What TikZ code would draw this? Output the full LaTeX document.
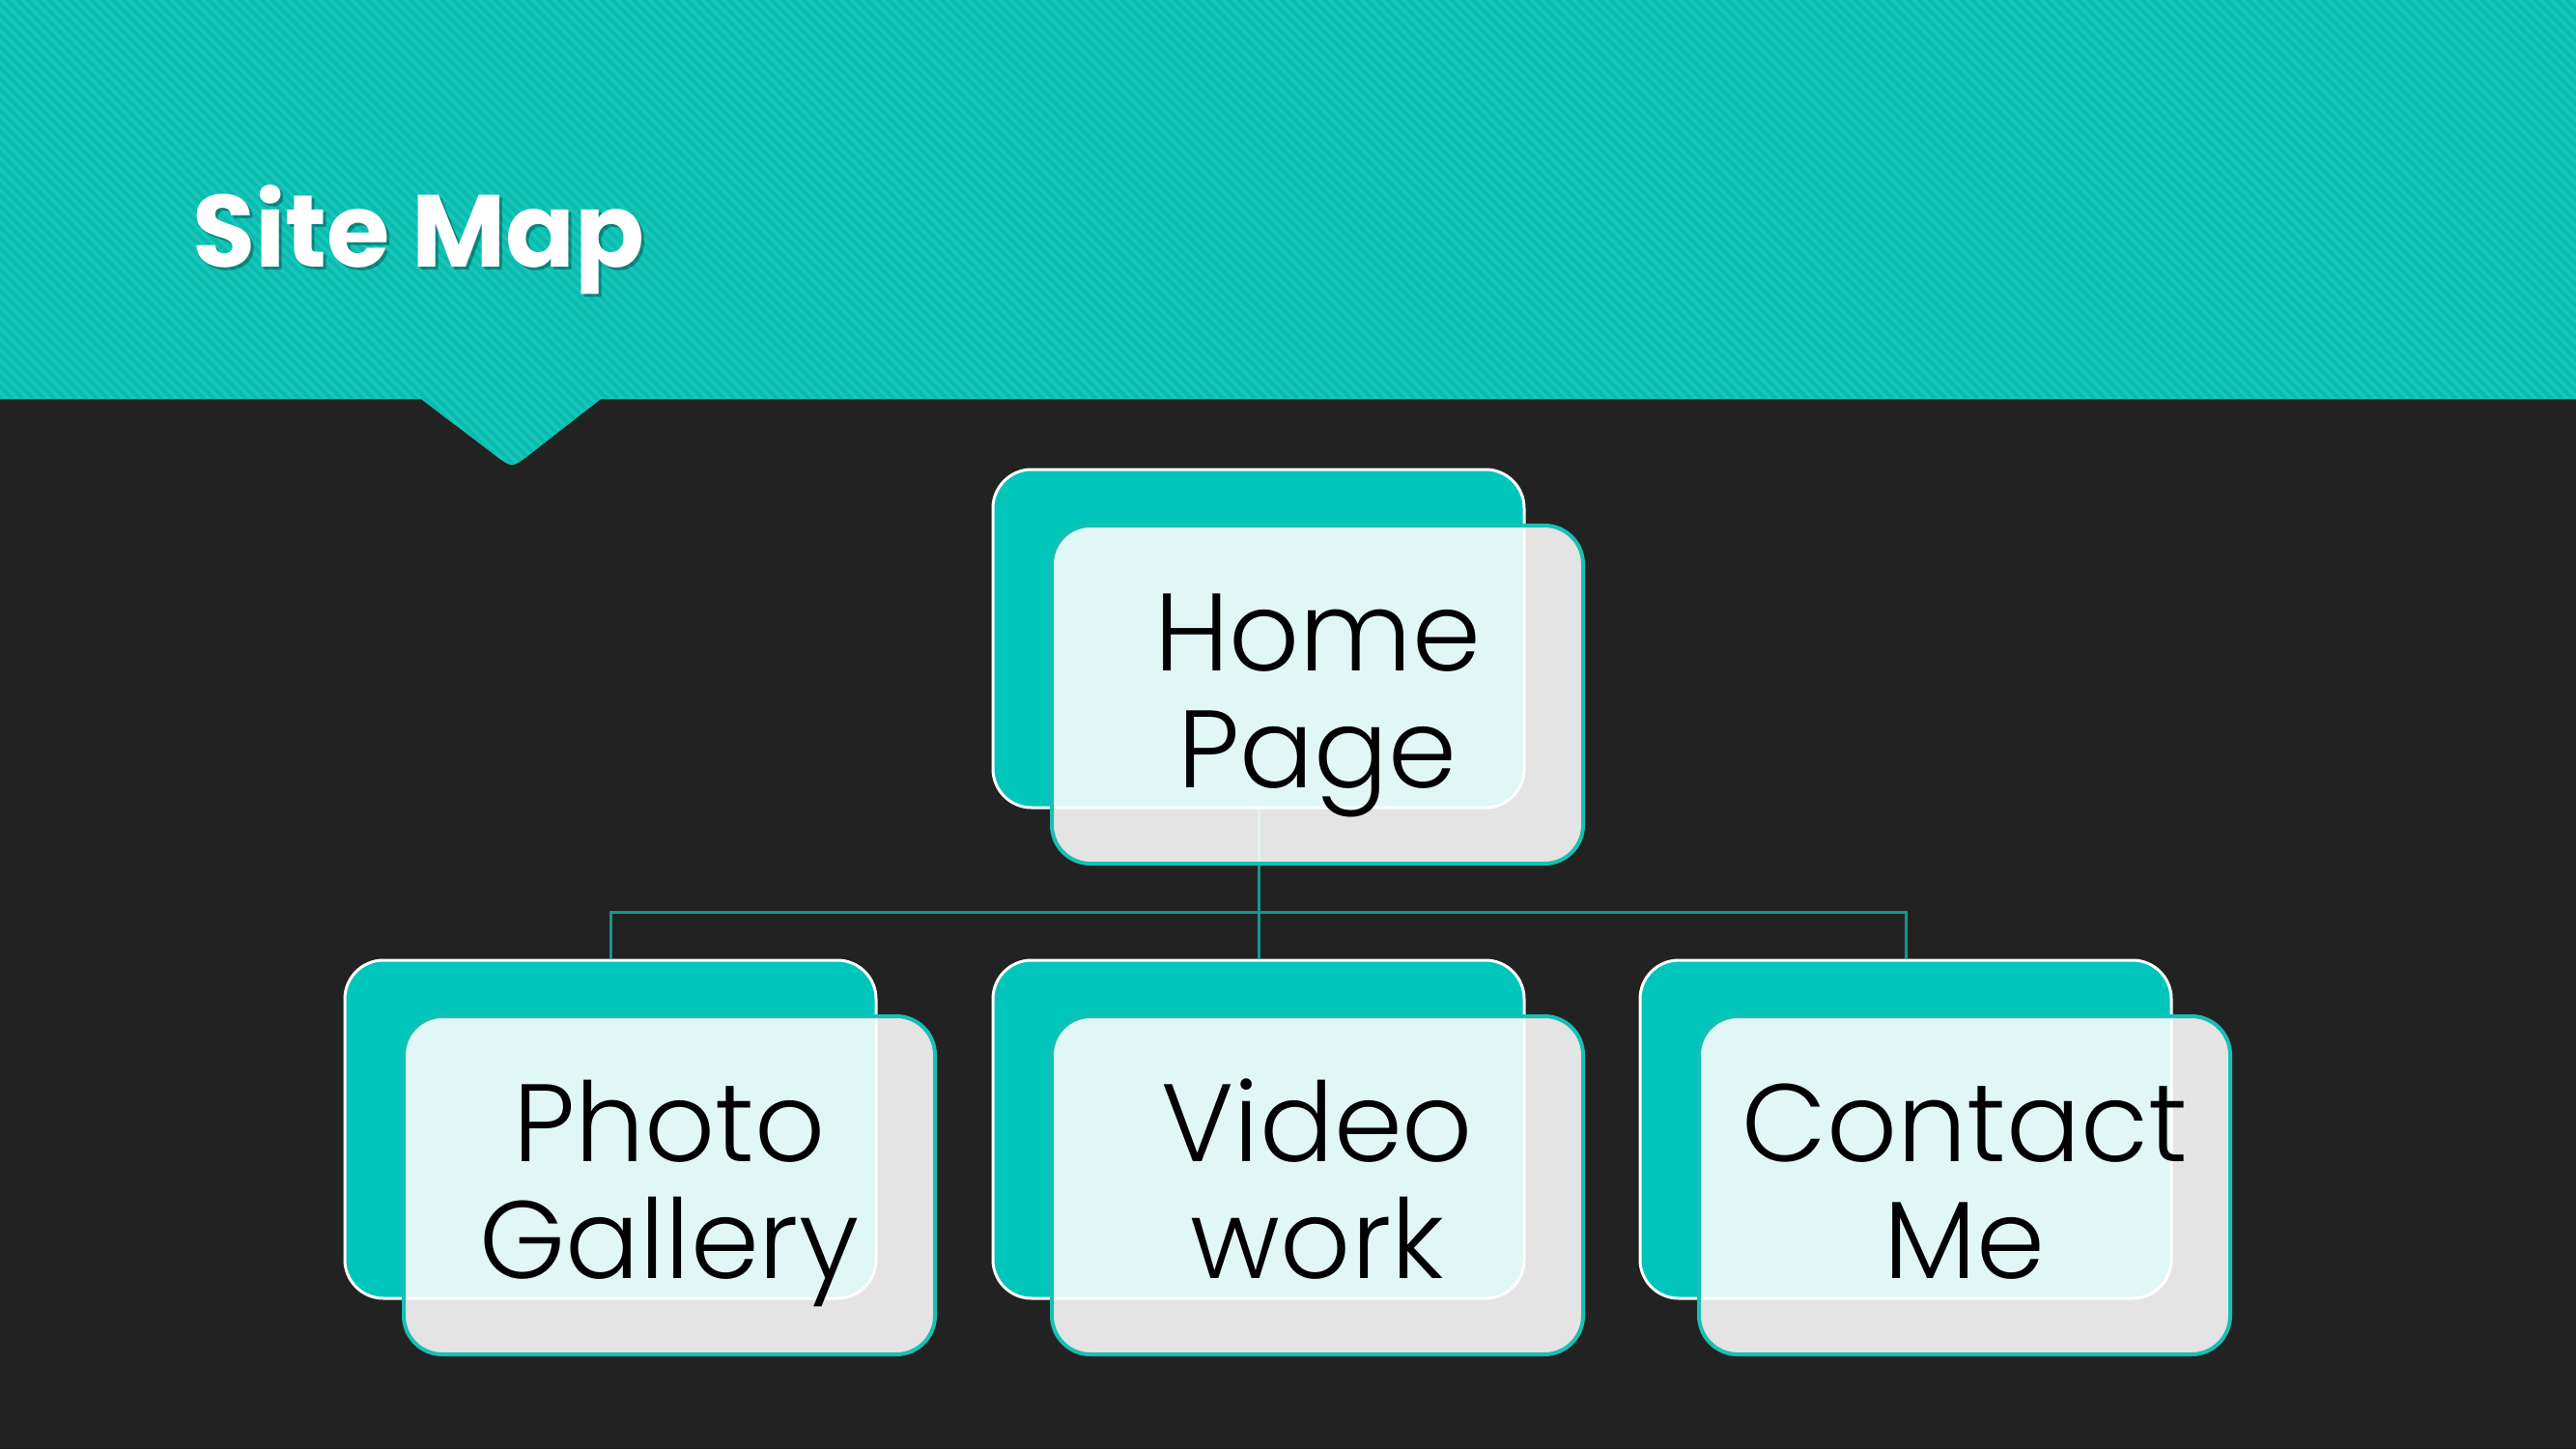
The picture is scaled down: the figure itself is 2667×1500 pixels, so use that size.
\documentclass[tikz,border=0pt]{standalone}
\usepackage{fontspec}
\setmainfont{Poppins}
\newfontfamily\cardfont{Poppins}[UprightFont={* Light}]
\usetikzlibrary{calc}

\definecolor{pagebg}{HTML}{222222}
\definecolor{bandbase}{HTML}{18C6BA}
\definecolor{bandstripe}{HTML}{0BBBAE}
\definecolor{boxteal}{HTML}{00C5BA}
\definecolor{rimteal}{HTML}{18BFB3}
\definecolor{linkteal}{HTML}{11998D}

\tikzset{
  backbox/.style={rectangle, rounded corners=40pt, minimum width=550pt,
    minimum height=350pt, inner sep=0pt, fill=boxteal, draw=white, line width=3pt},
  frontbox/.style={rectangle, rounded corners=40pt, minimum width=550pt,
    minimum height=350pt, inner sep=0pt, fill=white, fill opacity=0.88,
    draw=rimteal, line width=4pt},
  label/.style={text width=560pt, align=center, anchor=base, inner sep=0pt,
    text=black, font=\cardfont\fontsize{114}{121}\selectfont},
  conn/.style={draw=linkteal, line width=3pt},
}

\begin{document}
\begin{tikzpicture}[x=1pt, y=-1pt]
  \useasboundingbox (0,0) rectangle (2667,1500);
  \fill[pagebg] (0,0) rectangle (2667,1500);

  % header band with a pointer below the title
  \def\bandpath{(0,-5) -- (2672,-5) -- (2672,413) -- (622,413) -- (545,473)
    .. controls (530,484) .. (515,473) -- (436,413) -- (-5,413) -- cycle}
  \fill[bandbase] \bandpath;
  \begin{scope}
    \clip \bandpath;
    \foreach \s in {-520,-509,...,2680}
      \draw[bandstripe, line width=4pt] (\s,-10) -- (\s+520,510);
  \end{scope}

  % title
  \node[anchor=base west, inner sep=0pt, text=black, opacity=0.3,
    font=\fontsize{106}{106}\selectfont\bfseries] (titleshadow) at (202,279) {Site Map};
  \node[anchor=base west, inner sep=0pt, text=white,
    font=\fontsize{106}{106}\selectfont\bfseries] (title) at (199,276) {Site Map};

  % back cards
  \node[backbox] (homeB)    at (1303,661) {};
  \node[backbox] (photoB)   at (632,1169) {};
  \node[backbox] (videoB)   at (1303,1169) {};
  \node[backbox] (contactB) at (1973,1169) {};

  % connectors
  \coordinate (bus) at (1303,944);
  \draw[conn] (homeB.south) -- (bus);
  \draw[conn] (bus) -| (photoB.north);
  \draw[conn] (bus) -| (contactB.north);
  \draw[conn] (bus) -- (videoB.north);

  % front cards
  \node[frontbox] (homeF)    at (1364,719) {};
  \node[frontbox] (photoF)   at (693,1227) {};
  \node[frontbox] (videoF)   at (1364,1227) {};
  \node[frontbox] (contactF) at (2034,1227) {};

  % card texts
  \node[label] (homeT)    at (1364,694)  {Home\\Page};
  \node[label] (photoT)   at (693,1202)  {Photo\\Gallery};
  \node[label] (videoT)   at (1364,1202) {Video\\work};
  \node[label] (contactT) at (2034,1202) {Contact\\Me};
\end{tikzpicture}
\end{document}
